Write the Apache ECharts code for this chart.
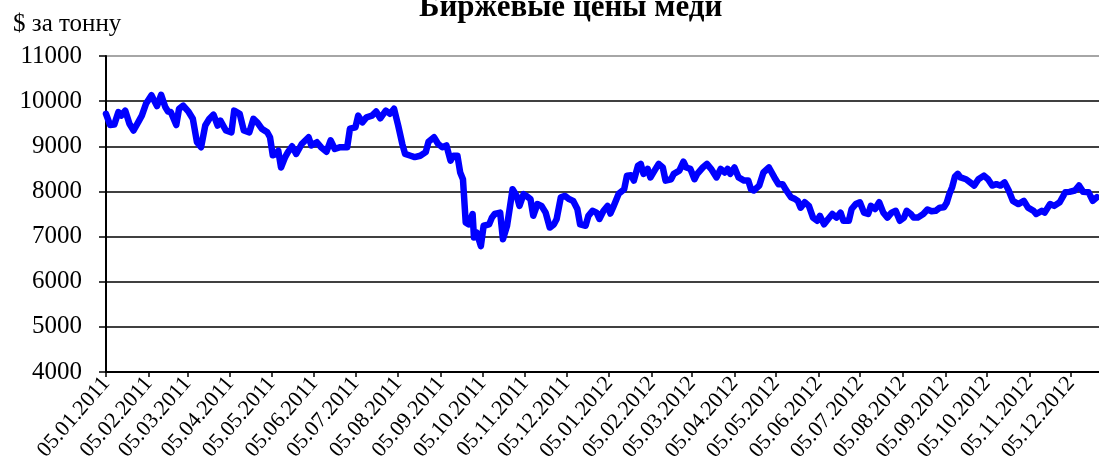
<!DOCTYPE html>
<html>
<head>
<meta charset="utf-8">
<script src="https://cdn.jsdelivr.net/npm/echarts@6/dist/echarts.min.js"></script>
<style>html,body{margin:0;padding:0;background:#fff}#c{width:1099px;height:468px}</style>
</head>
<body>
<div id="c"></div>
<script>
var titleText = 'Биржевые цены меди';
var unitText = '$ за тонну';
var startDate = '2011-01-05';
var endDate = '2012-12-25';
var tickLabels = ['05.01.2011','05.02.2011','05.03.2011','05.04.2011','05.05.2011','05.06.2011','05.07.2011','05.08.2011','05.09.2011','05.10.2011','05.11.2011','05.12.2011','05.01.2012','05.02.2012','05.03.2012','05.04.2012','05.05.2012','05.06.2012','05.07.2012','05.08.2012','05.09.2012','05.10.2012','05.11.2012','05.12.2012'];
var dates = ['2011-01-05','2011-01-08','2011-01-11','2011-01-14','2011-01-16','2011-01-19','2011-01-22','2011-01-25','2011-01-29','2011-01-31','2011-02-03','2011-02-07','2011-02-11','2011-02-14','2011-02-17','2011-02-19','2011-02-21','2011-02-25','2011-02-27','2011-03-02','2011-03-06','2011-03-09','2011-03-12','2011-03-15','2011-03-18','2011-03-21','2011-03-24','2011-03-27','2011-03-29','2011-04-02','2011-04-06','2011-04-08','2011-04-12','2011-04-15','2011-04-19','2011-04-22','2011-04-25','2011-04-28','2011-05-02','2011-05-04','2011-05-06','2011-05-08','2011-05-10','2011-05-12','2011-05-15','2011-05-17','2011-05-20','2011-05-23','2011-05-27','2011-06-01','2011-06-03','2011-06-07','2011-06-10','2011-06-14','2011-06-17','2011-06-20','2011-06-24','2011-06-29','2011-07-01','2011-07-05','2011-07-07','2011-07-10','2011-07-13','2011-07-17','2011-07-20','2011-07-23','2011-07-27','2011-07-30','2011-08-02','2011-08-05','2011-08-08','2011-08-10','2011-08-14','2011-08-17','2011-08-21','2011-08-25','2011-08-27','2011-08-31','2011-09-03','2011-09-06','2011-09-09','2011-09-12','2011-09-14','2011-09-17','2011-09-19','2011-09-21','2011-09-23','2011-09-25','2011-09-28','2011-09-29','2011-10-01','2011-10-04','2011-10-06','2011-10-10','2011-10-12','2011-10-14','2011-10-18','2011-10-20','2011-10-23','2011-10-25','2011-10-27','2011-10-30','2011-11-01','2011-11-04','2011-11-06','2011-11-09','2011-11-11','2011-11-14','2011-11-17','2011-11-20','2011-11-23','2011-11-26','2011-11-28','2011-12-01','2011-12-04','2011-12-07','2011-12-10','2011-12-13','2011-12-15','2011-12-19','2011-12-21','2011-12-24','2011-12-27','2011-12-29','2012-01-01','2012-01-04','2012-01-06','2012-01-08','2012-01-10','2012-01-12','2012-01-16','2012-01-18','2012-01-21','2012-01-23','2012-01-26','2012-01-28','2012-01-30','2012-02-02','2012-02-04','2012-02-07','2012-02-10','2012-02-13','2012-02-15','2012-02-19','2012-02-21','2012-02-25','2012-02-28','2012-03-01','2012-03-04','2012-03-07','2012-03-09','2012-03-13','2012-03-16','2012-03-19','2012-03-23','2012-03-26','2012-03-29','2012-03-31','2012-04-02','2012-04-05','2012-04-08','2012-04-12','2012-04-15','2012-04-17','2012-04-19','2012-04-23','2012-04-26','2012-04-30','2012-05-04','2012-05-07','2012-05-10','2012-05-12','2012-05-16','2012-05-19','2012-05-21','2012-05-23','2012-05-26','2012-05-29','2012-06-01','2012-06-04','2012-06-06','2012-06-09','2012-06-12','2012-06-15','2012-06-18','2012-06-21','2012-06-23','2012-06-27','2012-06-29','2012-07-02','2012-07-05','2012-07-08','2012-07-11','2012-07-13','2012-07-16','2012-07-19','2012-07-22','2012-07-25','2012-07-28','2012-07-31','2012-08-03','2012-08-06','2012-08-08','2012-08-11','2012-08-13','2012-08-16','2012-08-20','2012-08-23','2012-08-26','2012-08-29','2012-09-01','2012-09-04','2012-09-06','2012-09-08','2012-09-10','2012-09-12','2012-09-14','2012-09-16','2012-09-20','2012-09-23','2012-09-26','2012-09-29','2012-10-03','2012-10-06','2012-10-09','2012-10-12','2012-10-15','2012-10-18','2012-10-21','2012-10-24','2012-10-28','2012-11-01','2012-11-04','2012-11-08','2012-11-10','2012-11-14','2012-11-16','2012-11-20','2012-11-23','2012-11-27','2012-12-01','2012-12-04','2012-12-08','2012-12-11','2012-12-14','2012-12-18','2012-12-21','2012-12-24'];
var prices = [9720,9470,9480,9760,9680,9790,9500,9350,9570,9680,9940,10130,9890,10140,9870,9770,9760,9470,9830,9900,9760,9610,9090,8980,9460,9610,9700,9460,9570,9350,9310,9790,9720,9350,9310,9610,9520,9390,9310,9200,8800,8830,8900,8530,8760,8870,9000,8830,9050,9200,9020,9090,8980,8880,9130,8940,8980,8980,9390,9420,9680,9530,9640,9680,9770,9620,9790,9720,9830,9460,9050,8830,8790,8760,8790,8870,9100,9200,9050,8980,9020,8680,8790,8790,8420,8270,7310,7270,7500,6980,7090,6790,7240,7270,7420,7500,7530,6940,7240,7640,8050,7900,7680,7940,7900,7830,7460,7720,7680,7530,7200,7270,7390,7870,7900,7830,7790,7610,7270,7240,7460,7570,7530,7390,7570,7680,7510,7650,7800,7950,8050,8350,8360,8240,8570,8610,8390,8500,8310,8460,8610,8530,8240,8270,8390,8460,8660,8530,8500,8270,8390,8530,8610,8500,8310,8500,8420,8500,8390,8530,8310,8240,8240,8050,8020,8130,8420,8530,8310,8160,8160,8050,7870,7830,7790,7640,7760,7680,7420,7350,7460,7270,7390,7500,7420,7530,7350,7350,7610,7720,7760,7530,7500,7680,7610,7760,7530,7420,7530,7570,7350,7420,7570,7500,7420,7420,7500,7600,7560,7570,7640,7650,7750,7950,8100,8330,8390,8310,8270,8200,8130,8270,8350,8270,8130,8160,8130,8200,8020,7790,7720,7790,7640,7570,7500,7570,7530,7720,7680,7760,7980,7990,8020,8130,7990,7980,7790,7870];

var DAY = 86400000;
function parseIso(s){var p=s.split('-');return Date.UTC(+p[0],+p[1]-1,+p[2]);}
function parseRu(s){var p=s.split('.');return Date.UTC(+p[2],+p[1]-1,+p[0]);}
var t0 = parseIso(startDate);
function dayOf(ms){return Math.round((ms - t0)/DAY);}
var tickDays = tickLabels.map(function(s){return dayOf(parseRu(s));});
var labelByDay = {};
tickDays.forEach(function(d,i){labelByDay[d]=tickLabels[i];});
var seriesData = dates.map(function(d,i){return [dayOf(parseIso(d)), prices[i]];});
var xMax = dayOf(parseIso(endDate)) + 0.5;

var font = 'Liberation Serif, Times New Roman, serif';
var chart = echarts.init(document.getElementById('c'), null, {renderer:'canvas'});
chart.setOption({
  animation: false,
  backgroundColor: '#fff',
  title: [
    {text: titleText, left: 414, top: -13, textStyle: {fontFamily: font, fontWeight: 'bold', fontSize: 31, color: '#000'}},
    {text: unitText, left: 8, top: 7, textStyle: {fontFamily: font, fontWeight: 'normal', fontSize: 25, color: '#000'}}
  ],
  grid: {left: 106, top: 56, right: 0, bottom: 96, containLabel: false},
  xAxis: {
    type: 'value', min: 0, max: xMax,
    axisLine: {show: true, onZero: false, lineStyle: {color: '#000', width: 2}},
    axisTick: {show: true, customValues: tickDays, length: 5, lineStyle: {color: '#000', width: 1.5}},
    axisLabel: {show: true, customValues: tickDays, rotate: 49, margin: 8, fontFamily: font, fontSize: 22, color: '#000',
      formatter: function(v){return labelByDay[Math.round(v)] || '';}},
    splitLine: {show: false}
  },
  yAxis: {
    type: 'value', min: 4000, max: 11000, interval: 1000,
    axisLine: {show: true, lineStyle: {color: '#000', width: 2}},
    axisTick: {show: true, length: 7, lineStyle: {color: '#000', width: 1.5}},
    axisLabel: {margin: 24, fontFamily: font, fontSize: 25, color: '#000', formatter: function(v){return String(v);}},
    splitLine: {show: true, lineStyle: {color: ['#000','#000','#000','#000','#000','#000','#000','#888'], width: 1.5}}
  },
  series: [{
    type: 'line', data: seriesData, showSymbol: false, smooth: false,
    lineStyle: {color: '#0000FF', width: 6.5, join: 'round', cap: 'round'},
    z: 5
  }]
});
</script>
</body>
</html>
